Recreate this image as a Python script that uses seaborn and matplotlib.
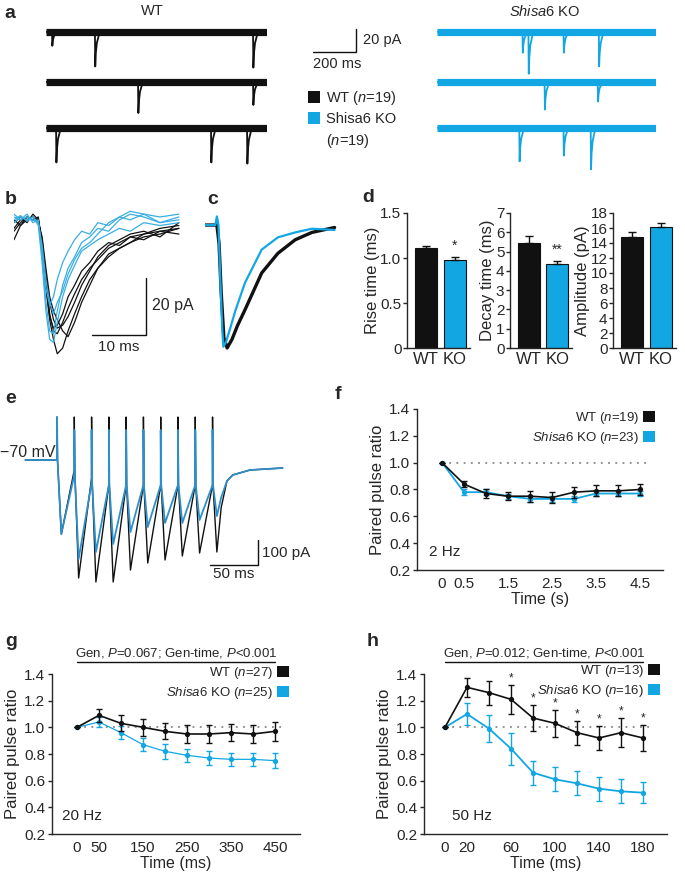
import numpy as np
import matplotlib
matplotlib.use('Agg')
import matplotlib.pyplot as plt
from matplotlib.patches import Patch
import seaborn as sns

sns.set_style('ticks')
plt.rcParams['font.family'] = ['Liberation Sans', 'DejaVu Sans']
plt.rcParams['mathtext.fontset'] = 'custom'
plt.rcParams['mathtext.rm'] = 'Liberation Sans'
plt.rcParams['mathtext.it'] = 'Liberation Sans:italic'
plt.rcParams['axes.linewidth'] = 1.0

BLACK = '#111111'
BLUE = '#12a7e2'
BLUE_E = '#2e8fc8'

# ---------------- data ----------------
# a: example mEPSC traces (event time in ms, amplitude in pA)
a_len = 1030
mepsc_t = [0, 1.5, 4, 9, 18, 32]
mepsc_shape = [0, -1, -0.62, -0.32, -0.1, 0]
a_wt_times = [[28, 228, 965], [429, 965], [47, 769, 937]]
a_wt_amps = [[12, 30, 31], [27, 20], [30, 30, 31]]
a_ko_times = [[402, 430, 595, 761], [506, 756], [387, 595, 723]]
a_ko_amps = [[18, 36, 18, 30], [24, 17], [29, 24, 36]]
a_row_offsets = [0, -43.5, -83.5]

# b: single events (ms, pA)
b_time = [0.0, 1.2, 2.4, 3.5, 4.5, 5.2, 5.9, 6.6, 7.3, 8.0, 9.0, 10.0, 11.2,
          12.5, 14.0, 15.5, 17.5, 19.5, 21.5, 24.0, 27.0, 30.5]
b_wt = [
    [-5, -2, 0, -1, -1, -9, -22, -34, -40, -41, -37, -32, -27, -22, -18, -15, -11, -9, -7, -6, -4, -3],
    [-8, -3, -1, 0, -2, -11, -25, -36, -43, -48, -46, -40, -34, -28, -22, -18, -14, -11, -9, -6, -5, -4],
    [-2, 0, -2, 1, -1, -8, -20, -30, -36, -39, -38, -35, -30, -24, -19, -14, -10, -8, -6, -5, -7, -2],
    [-1, -3, 0, -1, 0, -10, -24, -35, -39, -38, -34, -28, -24, -19, -16, -12, -9, -10, -7, -8, -5, -6],
    [-4, -1, -1, 0, -2, -7, -18, -28, -33, -36, -40, -42, -37, -30, -24, -18, -13, -11, -9, -7, -6, -4],
]
b_ko = [
    [-1, 0.5, -1.5, 0, -2, -12, -25, -31, -28, -22, -16, -12, -8, -5, -6, -2, -3, 0, -1, 1, -2, -1],
    [0, -1, 1, -2, -1, -14, -30, -40, -41, -33, -24, -18, -14, -9, -7, -4, -5, -1, 1, 0, -2, 0],
    [-2, 0, -1, 0, -3, -16, -33, -43, -44, -37, -28, -22, -17, -12, -10, -8, -6, -4, -5, -2, -3, -2],
    [1, -1, 0, -1, -2, -10, -22, -30, -34, -30, -26, -20, -15, -11, -9, -6, -2, 0, 2, 1, 0, 1],
]

# c: averaged, normalised events
c_wt_time = [0, 2.2, 2.6, 3.0, 3.5, 4.1, 5.0, 6.0, 7.4, 10.5, 13.5, 16.7, 19.8, 24.0]
c_wt = [0, 0, -0.15, -0.55, -0.92, -1.0, -0.93, -0.82, -0.69, -0.39, -0.23, -0.12, -0.06, -0.02]
c_ko_time = [0, 1.9, 2.2, 2.5, 2.8, 3.2, 3.4, 3.9, 4.6, 5.6, 7.4, 10.5, 13.5, 16.7, 19.8, 24.0]
c_ko = [0, 0, 0.07, 0, -0.4, -0.85, -0.99, -0.95, -0.85, -0.7, -0.47, -0.2, -0.1, -0.06, -0.03, -0.04]

# d: mEPSC kinetics (mean, s.e.m.)
d_groups = ['WT', 'KO']
d_rise = [1.11, 0.98]
d_rise_err = [0.025, 0.03]
d_decay = [5.45, 4.35]
d_decay_err = [0.37, 0.15]
d_amp = [14.8, 16.2]
d_amp_err = [0.65, 0.45]

# e: 50 Hz train (ms, pA)
e_start = -33
e_pulse_times = [0, 18, 36, 54, 72, 90, 108, 126, 144, 162]
e_wt_pre = [0, -40, -72, -100, -100, -100, -100, -100, -100, -100]
e_ko_pre = [0, -60, -92, -100, -100, -100, -100, -100, -100, -100]
e_wt_trough = [-296, -472, -488, -488, -440, -412, -400, -384, -372, -368]
e_ko_trough = [-296, -396, -368, -336, -288, -268, -252, -252, -240, -224]
e_wt_art = [172] * 10
e_ko_art = [172, 120, 120, 120, 120, 120, 120, 120, 120, 120]
e_tail_time = [171, 177, 183, 201, 235]
e_wt_tail = [-190, -84, -60, -40, -32]
e_ko_tail = [-150, -84, -60, -40, -32]

# f: 2 Hz
f_time = [0, 0.5, 1, 1.5, 2, 2.5, 3, 3.5, 4, 4.5]
f_wt = [1.0, 0.84, 0.77, 0.75, 0.75, 0.74, 0.78, 0.79, 0.79, 0.80]
f_wt_err = [0, 0.02, 0.03, 0.03, 0.04, 0.04, 0.04, 0.04, 0.04, 0.04]
f_ko = [1.0, 0.78, 0.78, 0.75, 0.73, 0.73, 0.73, 0.77, 0.77, 0.77]
f_ko_err = [0, 0.02, 0.02, 0.02, 0.02, 0.02, 0.02, 0.02, 0.02, 0.02]

# g: 20 Hz
g_time = [0, 50, 100, 150, 200, 250, 300, 350, 400, 450]
g_wt = [1.0, 1.09, 1.03, 1.00, 0.97, 0.95, 0.95, 0.96, 0.95, 0.97]
g_wt_err = [0, 0.05, 0.06, 0.065, 0.06, 0.07, 0.07, 0.065, 0.065, 0.07]
g_ko = [1.0, 1.04, 0.96, 0.87, 0.82, 0.79, 0.77, 0.76, 0.76, 0.75]
g_ko_err = [0, 0.04, 0.05, 0.05, 0.055, 0.05, 0.05, 0.05, 0.05, 0.055]

# h: 50 Hz
h_time = [0, 20, 40, 60, 80, 100, 120, 140, 160, 180]
h_wt = [1.0, 1.30, 1.26, 1.21, 1.07, 1.03, 0.96, 0.92, 0.96, 0.92]
h_wt_err = [0, 0.07, 0.09, 0.11, 0.10, 0.10, 0.09, 0.09, 0.11, 0.10]
h_ko = [1.0, 1.10, 0.99, 0.84, 0.66, 0.61, 0.58, 0.54, 0.52, 0.51]
h_ko_err = [0, 0.08, 0.10, 0.12, 0.09, 0.09, 0.09, 0.09, 0.09, 0.08]
h_sig_times = [60, 80, 100, 120, 140, 160, 180]

# ---------------- figure ----------------
W, H = 685, 877
fig = plt.figure(figsize=(W / 100, H / 100), dpi=100)


def add_ax(l, t, r, b):
    return fig.add_axes([l / W, 1 - b / H, (r - l) / W, (b - t) / H])


def ftext(x, y, s, **kw):
    fig.text(x / W, 1 - y / H, s, **kw)


for lab, x, y in [('a', 4, 13), ('b', 5, 199), ('c', 207, 199), ('d', 362, 198),
                  ('e', 5, 398), ('f', 335, 395), ('g', 5, 642), ('h', 367, 642)]:
    ftext(x, y, lab, fontsize=14, fontweight='bold', va='center', ha='left')

# ---- a ----
def event_trace(times, amps):
    grid = sorted(set([0, a_len] + [t + k for t in times for k in mepsc_t]))
    grid = np.array(grid, dtype=float)
    vals = np.zeros_like(grid)
    for t, amp in zip(times, amps):
        vals += amp * np.interp(grid - t, mepsc_t, mepsc_shape, left=0, right=0)
    return grid, vals


for left, right, times, amps, col in [(46, 267, a_wt_times, a_wt_amps, BLACK),
                                      (437, 656, a_ko_times, a_ko_amps, BLUE)]:
    ax = add_ax(left, 20, right, 175)
    for off, tt, aa in zip(a_row_offsets, times, amps):
        ax.plot([0, a_len], [off, off], color=col, lw=5.2, solid_capstyle='butt')
        gx, gy = event_trace(tt, aa)
        sns.lineplot(x=gx, y=gy + off, color=col, lw=1.3, estimator=None, sort=False, ax=ax)
    ax.set_xlim(0, a_len)
    ax.set_ylim(-124.4, 10.4)
    ax.axis('off')
    if col == BLACK:
        ax_a = ax

# scale bar a (200 ms, 20 pA)
ax_a.plot([1244, 1444, 1444], [-17.4, -17.4, 2.6], color=BLACK, lw=1, clip_on=False)
ax_a.text(1479, -7.4, '20 pA', fontsize=10.5, va='center', ha='left')
ax_a.text(1244, -28, '200 ms', fontsize=10.5, va='center', ha='left')

ftext(152, 11, 'WT', fontsize=10.5, ha='center', va='center')
ftext(545, 11, r'$\it{Shisa6}$ KO', fontsize=10.5, ha='center', va='center')
fig.legend(handles=[Patch(fc=BLACK, ec='none'), Patch(fc=BLUE, ec='none'), Patch(fc='none', ec='none')],
           labels=['WT ($n$=19)', 'Shisa6 KO', '($n$=19)'], loc='upper left',
           bbox_to_anchor=(308 / W, 1 - 89 / H), frameon=False, fontsize=10.5,
           handlelength=0.85, handleheight=0.85, handletextpad=0.35, labelspacing=0.36,
           borderpad=0, borderaxespad=0)

# ---- b ----
ax = add_ax(14, 205, 180, 360)
for tr in b_wt:
    sns.lineplot(x=b_time, y=tr, color=BLACK, lw=0.9, estimator=None, sort=False, ax=ax)
for tr in b_ko:
    sns.lineplot(x=b_time, y=tr, color='#3aaee3', lw=0.9, estimator=None, sort=False, ax=ax)
ax.set_xlim(0, 30.7)
ax.set_ylim(-50.2, 4.2)
ax.axis('off')
ax.plot([14.4, 24.4, 24.4], [-41.4, -41.4, -21.4], color=BLACK, lw=1, clip_on=False)
ax.text(25.6, -31, '20 pA', fontsize=11.5, va='center', ha='left')
ax.text(19.4, -43.3, '10 ms', fontsize=11, va='top', ha='center')

# ---- c ----
ax = add_ax(205, 205, 340, 360)
sns.lineplot(x=c_wt_time, y=c_wt, color=BLACK, lw=2.4, estimator=None, sort=False, ax=ax)
sns.lineplot(x=c_ko_time, y=c_ko, color=BLUE, lw=1.6, estimator=None, sort=False, ax=ax)
ax.set_xlim(0, 25)
ax.set_ylim(-1.098, 0.163)
ax.axis('off')

# ---- d ----
def bar_panel(box, vals, errs, ylim, yticks, yticklabels, ylabel, stars):
    ax = add_ax(*box)
    sns.barplot(x=d_groups, y=vals, hue=d_groups, palette=[BLACK, BLUE], legend=False,
                saturation=1, edgecolor=BLACK, linewidth=0.8, width=0.76, ax=ax)
    ax.errorbar([0, 1], vals, yerr=[np.zeros(2), errs], fmt='none', ecolor=BLACK,
                elinewidth=1, capsize=3, capthick=1)
    if stars:
        ax.text(1, vals[1] + errs[1] + (ylim[1] - ylim[0]) * 0.03, stars,
                ha='center', va='bottom', fontsize=10)
    ax.set_xlim(-0.66, 1.52)
    ax.set_ylim(*ylim)
    ax.set_yticks(yticks)
    ax.set_yticklabels(yticklabels)
    ax.set_ylabel(ylabel, fontsize=12, labelpad=0.5)
    ax.tick_params(axis='y', length=3, width=1, labelsize=11, pad=1)
    ax.tick_params(axis='x', length=0, labelsize=12, pad=3)
    sns.despine(ax=ax)
    return ax


bar_panel((407, 213, 470, 348), d_rise, d_rise_err, (0, 1.5), [0, 0.5, 1.0, 1.5],
          ['0', '0.5', '1.0', '1.5'], 'Rise time (ms)', '*')
bar_panel((510, 213, 572, 348), d_decay, d_decay_err, (0, 7), list(range(8)),
          [str(i) for i in range(8)], 'Decay time (ms)', '**')
bar_panel((613, 213, 676, 348), d_amp, d_amp_err, (0, 18), list(range(0, 19, 2)),
          [str(i) for i in range(0, 19, 2)], 'Amplitude (pA)', None)

# ---- e ----
def train_trace(pre, trough, art, tail):
    tx, ty = [e_start], [0]
    for t, p, tr, a in zip(e_pulse_times, pre, trough, art):
        tx += [t, t, t + 0.5, t + 4.5]
        ty += [p, a, p, tr]
    tx += e_tail_time
    ty += tail
    return tx, ty


ax = add_ax(0, 400, 300, 600)
wx, wy = train_trace(e_wt_pre, e_wt_trough, e_wt_art, e_wt_tail)
kx, ky = train_trace(e_ko_pre, e_ko_trough, e_ko_art, e_ko_tail)
sns.lineplot(x=wx, y=wy, color=BLACK, lw=1.0, estimator=None, sort=False, ax=ax)
sns.lineplot(x=kx, y=ky, color=BLUE_E, lw=1.3, estimator=None, sort=False, ax=ax)
ax.set_xlim(-59.4, 253.1)
ax.set_ylim(-560, 240)
ax.axis('off')
ax.text(-59.4, 32, '\u221270 mV', fontsize=11.5, va='center', ha='left')
ax.plot([159.4, 209.4, 209.4], [-420, -420, -320], color=BLACK, lw=1, clip_on=False)
ax.text(213.5, -370, '100 pA', fontsize=11, va='center', ha='left')
ax.text(184.4, -430, '50 ms', fontsize=11, va='top', ha='center')

# ---- f, g, h ----
def ppr_panel(box, x, wt, wt_err, ko, ko_err, xlim, xticks, xlabel, labels, leg_anchor,
              freq, freq_x, ko_lw=1.3, header=None):
    ax = add_ax(*box)
    ax.plot([0, x[-1] * 1.04], [1, 1], ls=(0, (1, 3)), color='#888888', lw=1.3)
    sns.lineplot(x=x, y=ko, color=BLUE, lw=ko_lw, marker='o', markersize=3.8,
                 markeredgewidth=0, estimator=None, ax=ax)
    ax.errorbar(x, ko, yerr=ko_err, fmt='none', ecolor=BLUE, elinewidth=1, capsize=2.5, capthick=1)
    sns.lineplot(x=x, y=wt, color=BLACK, lw=1.2, marker='o', markersize=3.8,
                 markeredgewidth=0, estimator=None, ax=ax)
    ax.errorbar(x, wt, yerr=wt_err, fmt='none', ecolor=BLACK, elinewidth=1, capsize=2.5, capthick=1)
    ax.set_xlim(*xlim)
    ax.set_ylim(0.2, 1.4)
    ax.set_yticks([0.2, 0.4, 0.6, 0.8, 1.0, 1.2, 1.4])
    ax.set_yticklabels(['0.2', '0.4', '0.6', '0.8', '1.0', '1.2', '1.4'])
    ax.set_xticks(xticks)
    ax.set_xticklabels([('%g' % v) for v in xticks])
    ax.tick_params(axis='y', length=3, width=1, labelsize=11, pad=2)
    ax.tick_params(axis='x', length=0, labelsize=11, pad=5)
    ax.set_ylabel('Paired pulse ratio', fontsize=12, labelpad=3)
    ax.set_xlabel(xlabel, fontsize=11.5, labelpad=1)
    sns.despine(ax=ax)
    ax.text(freq_x, 0.11, freq, transform=ax.transAxes, fontsize=11, va='center', ha='left')
    ax.legend(handles=[Patch(fc=BLACK, ec='none'), Patch(fc=BLUE, ec='none')], labels=labels,
              loc='upper right', bbox_to_anchor=(leg_anchor[0] / W, 1 - leg_anchor[1] / H),
              bbox_transform=fig.transFigure, markerfirst=False, frameon=False, fontsize=9.5,
              handlelength=0.9, handleheight=0.9, handletextpad=0.3, labelspacing=0.3,
              borderpad=0, borderaxespad=0)
    if header:
        ax.plot([0, x[-1]], [1.075, 1.075], color=BLACK, lw=1, clip_on=False,
                transform=ax.get_xaxis_transform())
        ax.text(x[-1] / 2, 1.13, header, transform=ax.get_xaxis_transform(),
                fontsize=9.5, ha='center', va='center')
    return ax


ppr_panel((417, 409, 663, 570), f_time, f_wt, f_wt_err, f_ko, f_ko_err, (-0.57, 5.02),
          [0, 0.5, 1.5, 2.5, 3.5, 4.5], 'Time (s)',
          ['WT ($n$=19)', r'$\it{Shisa6}$ KO ($n$=23)'], (655, 410), '2 Hz', 0.05)

ppr_panel((52, 674, 300, 834), g_time, g_wt, g_wt_err, g_ko, g_ko_err, (-56.8, 506.8),
          [0, 50, 150, 250, 350, 450], 'Time (ms)',
          ['WT ($n$=27)', r'$\it{Shisa6}$ KO ($n$=25)'], (289, 665), '20 Hz', 0.04,
          ko_lw=0.9, header='Gen, $P$=0.067; Gen-time, $P$<0.001')

axh = ppr_panel((424, 674, 667, 834), h_time, h_wt, h_wt_err, h_ko, h_ko_err, (-19.1, 201.8),
                [0, 20, 60, 100, 140, 180], 'Time (ms)',
                ['WT ($n$=13)', r'$\it{Shisa6}$ KO ($n$=16)'], (660, 663), '50 Hz', 0.115,
                header='Gen, $P$=0.012; Gen-time, $P$<0.001')
for t in h_sig_times:
    i = h_time.index(t)
    axh.text(t, h_wt[i] + h_wt_err[i] + 0.005, '*', ha='center', va='bottom', fontsize=8.5)

fig.savefig('out.png', dpi=100)
